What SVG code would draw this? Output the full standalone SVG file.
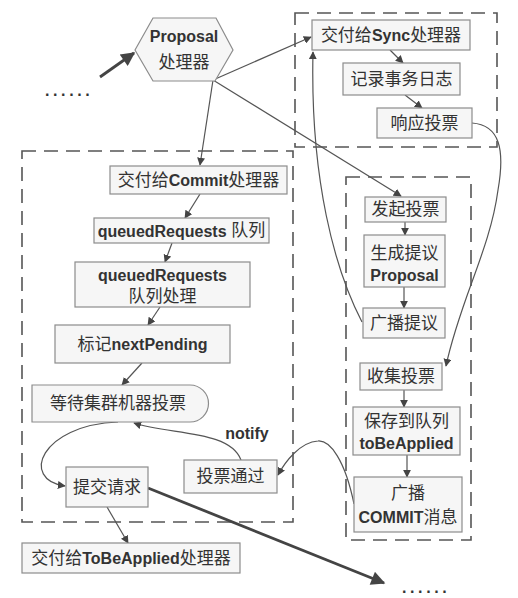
<svg xmlns="http://www.w3.org/2000/svg" width="518" height="598" viewBox="0 0 518 598">
<defs>
<marker id="a" viewBox="0 0 10 10" refX="9" refY="5" markerWidth="8" markerHeight="8" markerUnits="userSpaceOnUse" orient="auto"><path d="M0,0 L10,5 L0,10 Z" fill="#444"/></marker>
<marker id="big" viewBox="0 0 10 10" refX="9" refY="5" markerWidth="16" markerHeight="14" markerUnits="userSpaceOnUse" orient="auto"><path d="M0,0 L10,5 L0,10 Z" fill="#444"/></marker>
<style>
.b{fill:#f6f6f6;stroke:#8c8c8c;stroke-width:1.2}
.t{font-family:"Liberation Sans","Noto Sans CJK SC",sans-serif;font-size:17px;fill:#333;text-anchor:middle;dominant-baseline:central}
.l{font-weight:bold;font-size:16px}
.d{fill:none;stroke:#555;stroke-width:1.6;stroke-dasharray:14 8}
.c{fill:none;stroke:#555;stroke-width:1.2;marker-end:url(#a)}
.k{fill:none;stroke:#444;stroke-width:2.8;marker-end:url(#big)}
.e{font-family:"Liberation Sans",sans-serif;font-size:16px;font-weight:bold;fill:#333;letter-spacing:3.6px}
</style>
</defs>
<rect width="518" height="598" fill="#fff"/>
<g id="frames">
<rect class="d" x="295" y="13" width="202" height="134"/>
<rect class="d" x="22" y="151" width="271" height="371"/>
<rect class="d" x="346" y="177" width="125" height="363"/>
</g>
<g id="connectors">
<line class="k" x1="100" y1="77" x2="134" y2="53"/>
<line class="k" x1="148" y1="488" x2="384" y2="583"/>
<line class="c" x1="213" y1="80" x2="311" y2="37"/>
<line class="c" x1="213" y1="80" x2="401" y2="196"/>
<line class="c" x1="213" y1="80" x2="200" y2="165"/>
<line class="c" x1="390" y1="50" x2="403" y2="63"/>
<line class="c" x1="405" y1="95" x2="422" y2="108"/>
<path class="c" d="M362,322 C335,270 310,180 313,52"/>
<path class="c" d="M472,123 C500,125 505,150 498,190 C490,250 460,300 446,366"/>
<line class="c" x1="405" y1="222" x2="405" y2="235"/>
<line class="c" x1="404" y1="287" x2="404" y2="308"/>
<line class="c" x1="404" y1="390" x2="404" y2="407"/>
<line class="c" x1="407" y1="455" x2="407" y2="477"/>
<path class="c" d="M354,504 C345,460 330,440 318,441 C300,442 285,462 278,475"/>
<path class="c" d="M241,460 C230,430 170,435 134,423"/>
<path class="c" d="M118,422 C40,425 20,480 65,486"/>
<line class="c" x1="107" y1="507" x2="128" y2="543"/>
<line class="c" x1="200" y1="194" x2="185" y2="218"/>
<line class="c" x1="172" y1="243" x2="165" y2="262"/>
<line class="c" x1="160" y1="307" x2="148" y2="325"/>
<line class="c" x1="142" y1="363" x2="122" y2="385"/>
</g>
<text class="e" x="45" y="96">......</text>
<text class="e" x="402" y="593">......</text>
<g id="proposal"><polygon class="b" points="135,50 153,18 216,18 233,50 215,81 153,81"/><text class="t l" x="184" y="36">Proposal</text><text class="t" x="184" y="62">处理器</text></g>
<g id="sync"><rect class="b" x="312" y="20" width="158" height="30"/><text class="t" x="391" y="35">交付给<tspan class="l">Sync</tspan>处理器</text></g>
<g id="log"><rect class="b" x="343" y="63" width="117" height="32"/><text class="t" x="401.5" y="79">记录事务日志</text></g>
<g id="resp"><rect class="b" x="377" y="108" width="95" height="30"/><text class="t" x="424.5" y="123">响应投票</text></g>
<g id="commit"><rect class="b" x="110" y="166" width="177" height="28"/><text class="t" x="198.5" y="180">交付给<tspan class="l">Commit</tspan>处理器</text></g>
<g id="queue"><rect class="b" x="94" y="218" width="175" height="25"/><text class="t" x="181.5" y="230.5"><tspan class="l">queuedRequests</tspan> 队列</text></g>
<g id="qproc"><rect class="b" x="75" y="262" width="175" height="45"/><text class="t l" x="162.5" y="275">queuedRequests</text><text class="t" x="162.5" y="296">队列处理</text></g>
<g id="mark"><rect class="b" x="55" y="325" width="175" height="38"/><text class="t" x="142.5" y="344">标记<tspan class="l">nextPending</tspan></text></g>
<g id="wait"><path class="b" d="M32,385 H190 A18.5,18.5 0 0 1 190,422 H32 Z"/><text class="t" x="118" y="403.5">等待集群机器投票</text></g>
<g id="passed"><rect class="b" x="184" y="460" width="93" height="33"/><text class="t" x="230.5" y="476.5">投票通过</text></g>
<text class="t l" x="247" y="433">notify</text>
<g id="submit"><rect class="b" x="66" y="467" width="82" height="40"/><text class="t" x="107" y="487">提交请求</text></g>
<g id="tobe"><rect class="b" x="22" y="543" width="218" height="30"/><text class="t" x="131" y="558">交付给<tspan class="l">ToBeApplied</tspan>处理器</text></g>
<g id="initiate"><rect class="b" x="365" y="197" width="81" height="25"/><text class="t" x="405.5" y="209.5">发起投票</text></g>
<g id="gen"><rect class="b" x="364" y="235" width="81" height="52"/><text class="t" x="404.5" y="253">生成提议</text><text class="t l" x="404.5" y="275">Proposal</text></g>
<g id="bcast"><rect class="b" x="363" y="308" width="82" height="30"/><text class="t" x="404" y="323">广播提议</text></g>
<g id="collect"><rect class="b" x="360" y="363" width="82" height="27"/><text class="t" x="401" y="376.5">收集投票</text></g>
<g id="save"><rect class="b" x="353" y="407" width="107" height="48"/><text class="t" x="406.5" y="421">保存到队列</text><text class="t l" x="406.5" y="443">toBeApplied</text></g>
<g id="commitmsg"><rect class="b" x="354" y="477" width="108" height="55"/><text class="t" x="408" y="493">广播</text><text class="t" x="408" y="517"><tspan class="l">COMMIT</tspan>消息</text></g>
</svg>
